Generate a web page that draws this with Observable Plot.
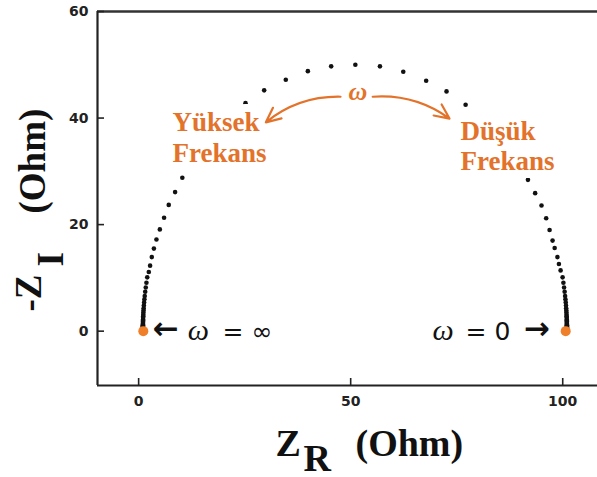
<!DOCTYPE html>
<html><head><meta charset="utf-8">
<script src="https://cdn.jsdelivr.net/npm/d3@7"></script>
<script src="https://cdn.jsdelivr.net/npm/@observablehq/plot@0.6"></script>
<style>body{margin:0;background:#fff}#chart svg{display:block}</style>
</head><body><div id="chart"></div>
<script>
// Nyquist data (Z_R, -Z_I) in Ohm
const zr = [1.01,1.01,1.01,1.01,1.01,1.01,1.01,1.01,1.01,1.02,1.02,1.03,1.03,1.04,1.05,1.06,1.08,1.10,1.12,1.15,1.19,1.23,1.29,1.36,1.44,1.55,1.68,1.84,2.03,
  2.40,2.70,3.10,3.60,4.20,5.00,6.00,7.10,8.60,10.3,
  11.9,14.4,17.4,20.9,
  25.2,29.6,34.7,39.9,45.4,51.1,56.9,62.4,67.8,72.6,77.1,
  81.1,84.6,87.6,90.1,
  91.8,93.5,95.0,96.1,96.9,97.6,98.1,98.75,99.1,99.5,
  99.97,100.16,100.32,100.45,100.56,100.64,100.71,100.77,100.81,100.85,100.88,100.90,100.92,100.94,100.95,100.96,100.97,100.97,100.98,100.98,100.99,100.99,100.99,100.99,100.99,100.99,100.99,100.99,100.99];
const zi = [0.3,0.4,0.5,0.6,0.7,0.8,0.9,1.0,1.1,1.25,1.4,1.6,1.8,2.0,2.2,2.5,2.8,3.1,3.5,3.9,4.3,4.8,5.4,6.0,6.6,7.4,8.2,9.1,10.1,
  11.1,12.3,13.9,15.5,17.2,19.1,21.3,23.7,26.1,28.8,
  31.2,34.1,37.0,39.9,
  42.8,45.2,47.2,48.8,49.7,50.0,49.7,48.7,47.0,45.0,42.5,
  39.9,37.0,34.1,31.2,
  28.4,25.9,23.6,21.2,19.0,17.0,15.6,13.9,12.6,11.4,
  10.1,9.1,8.2,7.4,6.6,6.0,5.4,4.8,4.3,3.9,3.5,3.1,2.8,2.5,2.2,2.0,1.8,1.6,1.4,1.25,1.1,1.0,0.9,0.8,0.7,0.6,0.5,0.4,0.3];
const endZr = [1.1, 100.7];
const endZi = [0, 0];

const xTicks = [0, 50, 100];
const yTicks = [0, 20, 40, 60];
const xDomain = [-9.7, 108.2];
const yDomain = [-10.2, 60];

// annotations
const freqLabels = [
  {x: 8.0, y: 37.6, text: "Yüksek"},
  {x: 8.0, y: 31.8, text: "Frekans"},
  {x: 75.9, y: 35.8, text: "Düşük"},
  {x: 75.9, y: 30.2, text: "Frekans"}
];
const omegaLabel = [{x: 51.7, y: 43.3, text: "ω"}];
const arcLeft = [{x1: 47.6, y1: 44.0, x2: 30.0, y2: 39.2}];
const arcRight = [{x1: 55.2, y1: 44.0, x2: 73.3, y2: 39.9}];
const limitArrows = [
  {x: 3.3, y: -1.4, text: "←"},
  {x: 90.8, y: -1.4, text: "→"}
];
const limitSymbols = [
  {x: 19.8, y: -1.6, text: "= ∞"},
  {x: 77.1, y: -1.6, text: "= 0"}
];
const limitOmegas = [
  {x: 11.6, y: -1.6, text: "ω"},
  {x: 69.3, y: -1.6, text: "ω"}
];

const points = zr.map((v, i) => ({x: v, y: zi[i]}));
const ends = endZr.map((v, i) => ({x: v, y: endZi[i]}));

const orange = "#E3732B";
const axisColor = "#222";
const serif = "Liberation Serif, Times New Roman, serif";

const chart = Plot.plot({
  width: 597,
  height: 477,
  marginLeft: 97,
  marginRight: 0,
  marginTop: 11,
  marginBottom: 92,
  x: {domain: xDomain},
  y: {domain: yDomain},
  style: {background: "#fff"},
  marks: [
    // frame lines
    Plot.ruleY([yDomain[1]], {stroke: "#333", strokeWidth: 2.6}),
    Plot.ruleY([yDomain[0]], {stroke: axisColor, strokeWidth: 2.2}),
    Plot.ruleX([xDomain[0]], {stroke: axisColor, strokeWidth: 2.2}),
    // inward ticks
    Plot.axisX(xTicks, {tickSize: 7, dy: -7, strokeWidth: 1.6, stroke: axisColor, tickFormat: () => ""}),
    Plot.axisY(yTicks, {tickSize: 7, dx: 7, strokeWidth: 1.6, stroke: axisColor, tickFormat: () => ""}),
    // tick labels
    Plot.axisX(xTicks, {tickSize: 0, tickPadding: 11, fontSize: 14, fontWeight: "bold", fontFamily: "DejaVu Sans", fill: axisColor}),
    Plot.axisY(yTicks, {tickSize: 0, tickPadding: 9, fontSize: 14, fontWeight: "bold", fontFamily: "DejaVu Sans", fill: axisColor}),
    // data
    Plot.dot(points, {x: "x", y: "y", r: 2.3, fill: "#111"}),
    Plot.dot(ends, {x: "x", y: "y", r: 5, fill: "#F07F2A"}),
    // frequency labels with white background
    Plot.text(freqLabels, {x: "x", y: "y", text: "text", textAnchor: "start", lineAnchor: "bottom",
      fontFamily: serif, fontWeight: "bold", fontSize: 27, fill: "white", stroke: "white", strokeWidth: 16, strokeLinejoin: "round"}),
    Plot.text(freqLabels, {x: "x", y: "y", text: "text", textAnchor: "start", lineAnchor: "bottom",
      fontFamily: serif, fontWeight: "bold", fontSize: 27, fill: orange}),
    Plot.text(omegaLabel, {x: "x", y: "y", text: "text", textAnchor: "middle", lineAnchor: "bottom",
      fontFamily: serif, fontWeight: "bold", fontStyle: "italic", fontSize: 26, fill: orange}),
    Plot.arrow(arcLeft, {x1: "x1", y1: "y1", x2: "x2", y2: "y2", bend: -20, stroke: orange, strokeWidth: 2.2, headLength: 11, headAngle: 50}),
    Plot.arrow(arcRight, {x1: "x1", y1: "y1", x2: "x2", y2: "y2", bend: 20, stroke: orange, strokeWidth: 2.2, headLength: 11, headAngle: 50}),
    // limit annotations
    Plot.text(limitArrows, {x: "x", y: "y", text: "text", textAnchor: "start", lineAnchor: "bottom",
      fontFamily: "DejaVu Sans", fontWeight: "bold", fontSize: 31, fill: "#111"}),
    Plot.text(limitSymbols, {x: "x", y: "y", text: "text", textAnchor: "start", lineAnchor: "bottom",
      fontFamily: "DejaVu Sans", fontSize: 25, fill: "#111"}),
    Plot.text(limitOmegas, {x: "x", y: "y", text: "text", textAnchor: "start", lineAnchor: "bottom",
      fontFamily: serif, fontStyle: "italic", fontSize: 30, fill: "#111"}),
    // x axis title
    Plot.text(["Z"], {text: d => d, frameAnchor: "bottom-left", dx: 178, dy: 70, textAnchor: "start", lineAnchor: "bottom",
      fontFamily: serif, fontWeight: "bold", fontSize: 38, fill: "#111"}),
    Plot.text(["R"], {text: d => d, frameAnchor: "bottom-left", dx: 206, dy: 85, textAnchor: "start", lineAnchor: "bottom",
      fontFamily: serif, fontWeight: "bold", fontSize: 38, fill: "#111"}),
    Plot.text(["(Ohm)"], {text: d => d, frameAnchor: "bottom-left", dx: 258, dy: 70, textAnchor: "start", lineAnchor: "bottom",
      fontFamily: serif, fontWeight: "bold", fontSize: 38, fill: "#111"}),
    // y axis title
    Plot.text(["-Z"], {text: d => d, frameAnchor: "top-left", dx: -57, dy: 300, rotate: -90, textAnchor: "start", lineAnchor: "bottom",
      fontFamily: serif, fontWeight: "bold", fontSize: 37, fill: "#111"}),
    Plot.text(["I"], {text: d => d, frameAnchor: "top-left", dx: -35, dy: 255, rotate: -90, textAnchor: "start", lineAnchor: "bottom",
      fontFamily: serif, fontWeight: "bold", fontSize: 37, fill: "#111"}),
    Plot.text(["(Ohm)"], {text: d => d, frameAnchor: "top-left", dx: -53, dy: 202, rotate: -90, textAnchor: "start", lineAnchor: "bottom",
      fontFamily: serif, fontWeight: "bold", fontSize: 37, fill: "#111"})
  ]
});
document.getElementById("chart").appendChild(chart);
</script>
</body></html>
